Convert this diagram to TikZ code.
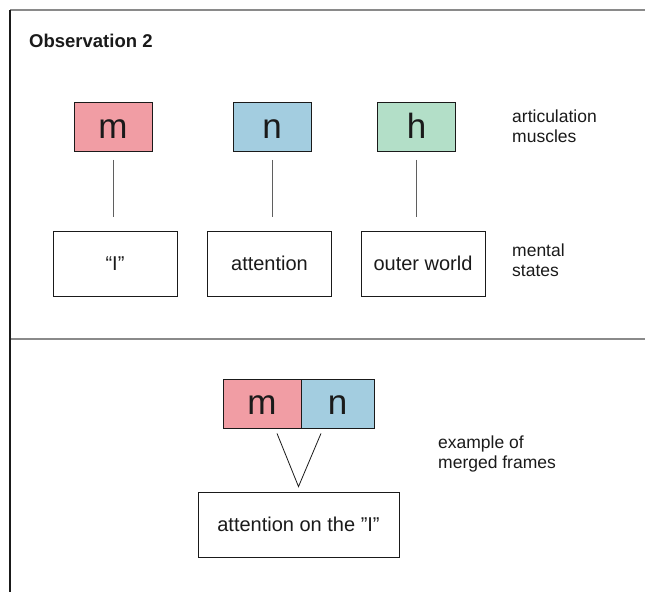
\documentclass[tikz,border=0pt]{standalone}
\usepackage{fontspec}
\setmainfont{Liberation Sans}
\usepackage{xcolor}
\usepackage{tikz}
\usetikzlibrary{calc,positioning}
\definecolor{pinkm}{HTML}{F19DA4}
\definecolor{bluen}{HTML}{A3CDE0}
\definecolor{greenh}{HTML}{B3DFC8}
\definecolor{grayframe}{HTML}{8A8A8A}
\definecolor{blackmain}{HTML}{1A1A1A}
\tikzset{every node/.append style={font=\rmfamily,text=blackmain},
  musclebox/.style={draw=blackmain,line width=.8pt,minimum width=78pt,minimum height=49pt,inner sep=0pt,text height=22pt,text depth=0pt,font=\fontsize{35}{40}\selectfont},
  statebox/.style={draw=blackmain,line width=.8pt,minimum width=124pt,minimum height=65pt,inner sep=0pt,font=\fontsize{20}{24}\selectfont},
  sidelabel/.style={anchor=west,align=left,inner sep=0pt,font=\fontsize{17.5}{20}\selectfont},
  link/.style={draw=blackmain!70,line width=.8pt}}

\begin{document}
\begin{tikzpicture}[x=1pt,y=-1pt]
  \useasboundingbox (0,0) rectangle (645,592);
  % frame
  \draw[grayframe,line width=1.6pt] (10,10)--(645,10);
  \draw[grayframe,line width=1.6pt] (10,339)--(645,339);
  \draw[blackmain,line width=1.4pt] (10,10)--(10,592);
  \node[anchor=west,inner sep=0pt,font=\fontsize{18.5}{20}\selectfont\bfseries] (title) at (29,41) {Observation 2};
  % articulation muscles and mental states
  \node[musclebox,fill=pinkm] (m) at (113,127) {m};
  \node[musclebox,fill=bluen] (n) at (272,127) {n};
  \node[musclebox,fill=greenh] (h) at (416.5,127) {h};
  \node[statebox] (sI) at (115,263.5) {“I”};
  \node[statebox] (sattn) at (269.5,263.5) {attention};
  \node[statebox] (souter) at (423,263.5) {outer world};
  \foreach \a/\b in {m/sI,n/sattn,h/souter}
    \draw[link,shorten <=8pt,shorten >=14pt] (\a.south) -- (\a.south |- \b.north);
  \node[sidelabel] (artlabel) at (512,126) {articulation\\muscles};
  \node[sidelabel] (mentlabel) at (512,260) {mental\\states};
  % merged frames
  \node[musclebox,fill=pinkm] (mm) at (262,403.5) {m};
  \node[musclebox,fill=bluen,minimum width=73pt] (mn) at (337.5,403.5) {n};
  \node[statebox,minimum width=201pt] (merged) at (298.5,524.5) {attention on the ”I”};
  \coordinate (apex) at ($(merged.north)+(0,-5)$);
  \draw[link,draw=blackmain] ($(mm.south)+(15,5)$) -- (apex) -- ($(mn.south)+(-16.5,5)$);
  \node[sidelabel] (mergelabel) at (438,454) {example of\\merged frames};
\end{tikzpicture}
\end{document}
